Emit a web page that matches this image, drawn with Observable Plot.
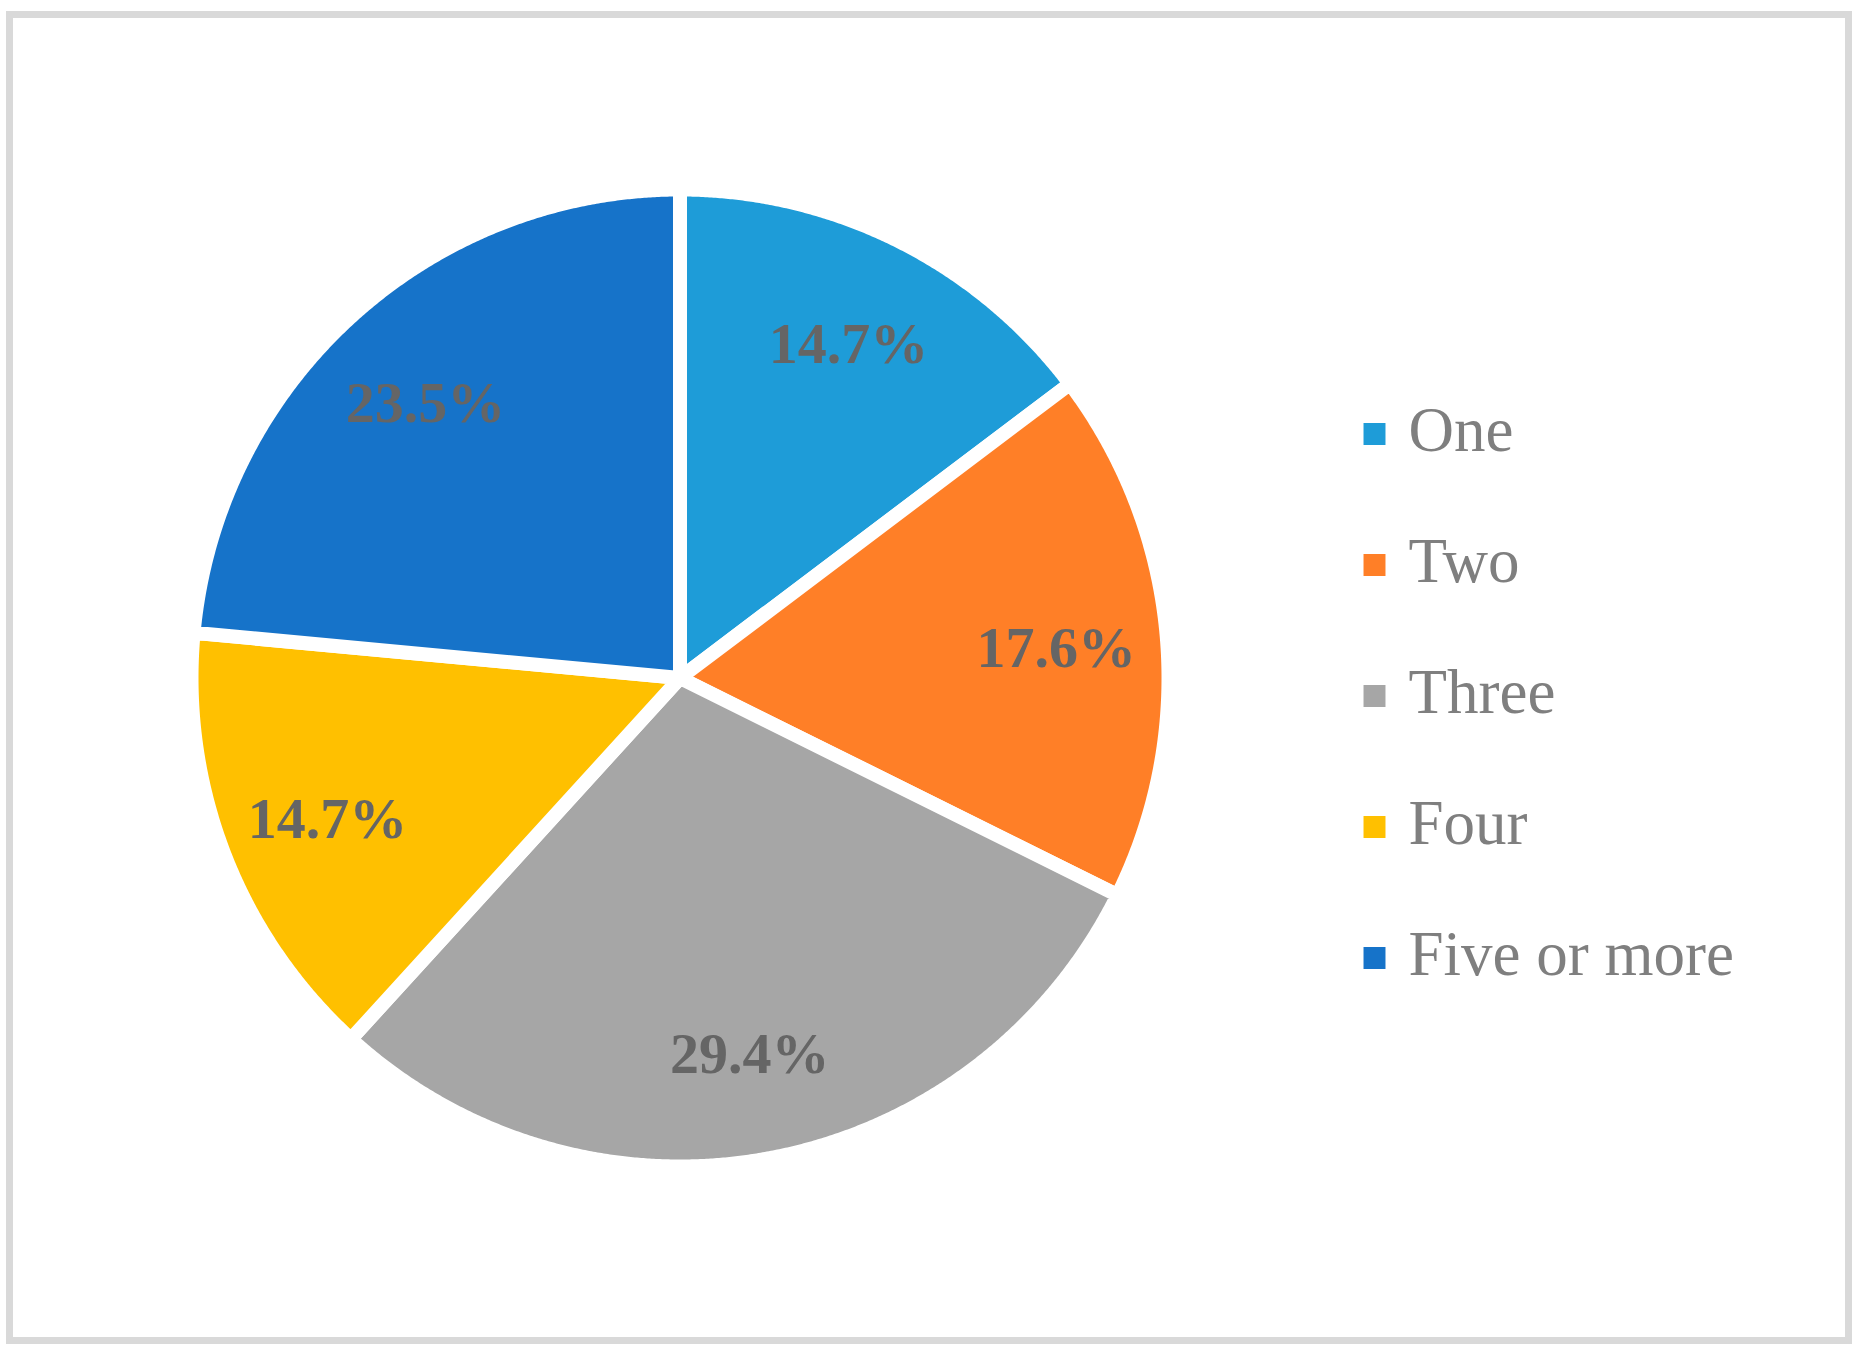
<!DOCTYPE html>
<html>
<head>
<meta charset="utf-8">
<script src="https://cdn.jsdelivr.net/npm/d3@7"></script>
<script src="https://cdn.jsdelivr.net/npm/@observablehq/plot@0.6"></script>
<style>
  html, body { margin: 0; padding: 0; background: #fff; }
  #wrap { position: relative; width: 1858px; height: 1348px; }
  #wrap svg { display: block; }
  #border { position: absolute; left: 6px; top: 11px; width: 1832px; height: 1319px;
            border: 7px solid #d9d9d9; pointer-events: none; }
</style>
</head>
<body>
<div id="wrap"><div id="border"></div></div>
<script>
// ---- data ----
const categories = ["One", "Two", "Three", "Four", "Five or more"];
const percents = [14.7, 17.6, 29.4, 14.7, 23.5];
const colors = ["#1E9CD8", "#FF7F27", "#A6A6A6", "#FFC000", "#1673C9"];

// ---- layout ----
const W = 1858, H = 1348;
const cx = 679.5, cy = 677.5;
const R = 488.5;          // geometric radius (white 14px stroke trims to ~481)
const labelR = 378;
const legendX = 1374, legendY0 = 433.5, legendStep = 131, legendTextX = 1408;

const arcs = d3.pie().sort(null).value(d => d.v)(categories.map((c, i) => ({c, v: percents[i]})));

const slicePts = [];
arcs.forEach(a => {
  const c = a.data.c;
  slicePts.push({c, x: cx, y: cy});
  const n = Math.max(2, Math.ceil((a.endAngle - a.startAngle) / (Math.PI / 720)));
  for (let k = 0; k <= n; k++) {
    const t = a.startAngle + (a.endAngle - a.startAngle) * k / n;
    slicePts.push({c, x: cx + R * Math.sin(t), y: cy - R * Math.cos(t)});
  }
  slicePts.push({c, x: cx, y: cy});
});

const labelData = arcs.map(a => {
  const m = (a.startAngle + a.endAngle) / 2;
  return {text: a.data.v.toFixed(1) + "%", x: cx + labelR * Math.sin(m), y: cy - labelR * Math.cos(m)};
});

const chart = Plot.plot({
  width: W, height: H,
  margin: 0,
  x: {domain: [0, W], range: [0, W], axis: null},
  y: {domain: [0, H], range: [0, H], axis: null},
  color: {domain: categories, range: colors},
  style: {background: "transparent"},
  marks: [
    Plot.line(slicePts, {x: "x", y: "y", z: "c", fill: "c", stroke: "white",
      strokeWidth: 14, strokeLinejoin: "miter", strokeMiterlimit: 1.5}),
    Plot.text(labelData, {x: "x", y: "y", text: "text", fill: "#656565",
      fontSize: 58, fontWeight: "bold", fontFamily: "Liberation Serif",
      textAnchor: "middle", lineAnchor: "middle", dy: 5}),
    Plot.dot(categories, {x: () => legendX, y: (d, i) => legendY0 + i * legendStep,
      symbol: "square", r: 12.4, fill: d => d, stroke: null}),
    Plot.text(categories, {x: () => legendTextX, y: (d, i) => legendY0 + i * legendStep,
      text: d => d, fill: "#7F7F7F", fontSize: 63, fontFamily: "Liberation Serif",
      textAnchor: "start", lineAnchor: "middle", dy: -3})
  ]
});
document.getElementById("wrap").prepend(chart);
</script>
</body>
</html>
